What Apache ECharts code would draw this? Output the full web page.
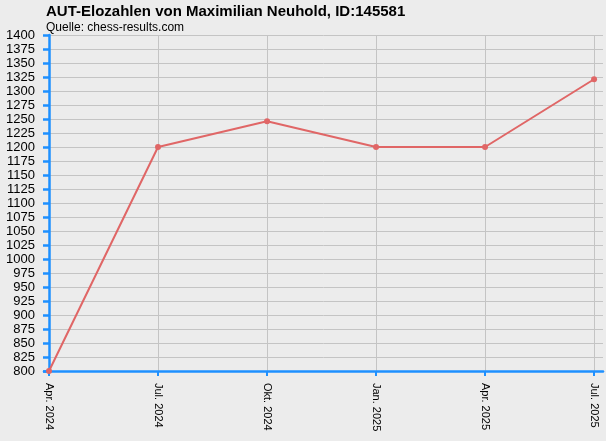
<!DOCTYPE html>
<html>
<head>
<meta charset="utf-8">
<script src="https://cdn.jsdelivr.net/npm/echarts@6/dist/echarts.min.js"></script>
<style>
  html, body { margin: 0; padding: 0; background: #ececec; }
  #chart { width: 606px; height: 441px; }
</style>
</head>
<body>
<div id="chart"></div>
<script>
// Elo history
const periods = ['Apr. 2024', 'Jul. 2024', 'Okt. 2024', 'Jan. 2025', 'Apr. 2025', 'Jul. 2025']
const elo = [800, 1200, 1246, 1200, 1200, 1321]
const periodIdx = [0, 1, 2, 3, 4, 5]

const axisBlue = '#1e90ff'
const font = 'Liberation Sans, Arial, sans-serif'

const chart = echarts.init(document.getElementById('chart'))

chart.setOption({
  backgroundColor: '#ececec',
  animation: false,
  title: {
    text: 'AUT-Elozahlen von Maximilian Neuhold, ID:145581',
    subtext: 'Quelle: chess-results.com',
    left: 41,
    top: -1,
    itemGap: 3,
    textStyle: { fontFamily: font, fontSize: 15, fontWeight: 'bold', color: '#000' },
    subtextStyle: { fontFamily: font, fontSize: 12, color: '#000' }
  },
  grid: { left: 44, right: 3, top: 35, bottom: 70, containLabel: false },
  xAxis: {
    type: 'value',
    min: -0.046,
    max: 5.082,
    axisLine: { show: true, onZero: false, lineStyle: { color: axisBlue, width: 2.5 } },
    axisTick: { show: true, customValues: periodIdx, length: 5, lineStyle: { color: axisBlue, width: 2 } },
    axisLabel: {
      customValues: periodIdx,
      rotate: -90,
      margin: 12,
      fontFamily: font,
      fontSize: 11,
      color: '#000',
      formatter: v => periods[Math.round(v)]
    },
    splitLine: { show: true, lineStyle: { color: '#c4c4c4', width: 1 } }
  },
  yAxis: {
    type: 'value',
    min: 800,
    max: 1400,
    interval: 25,
    axisLine: { show: true, lineStyle: { color: axisBlue, width: 2.5 } },
    axisTick: { show: true, length: 6, lineStyle: { color: axisBlue, width: 2.5 } },
    axisLabel: { margin: 9, fontFamily: font, fontSize: 13, color: '#000', formatter: v => String(v) },
    splitLine: { show: true, lineStyle: { color: '#c4c4c4', width: 1 } }
  },
  series: [{
    type: 'line',
    data: periodIdx.map(i => [i, elo[i]]),
    symbol: 'circle',
    symbolSize: 6,
    showSymbol: true,
    lineStyle: { color: '#e06666', width: 2 },
    itemStyle: { color: '#e06666' }
  }]
})
</script>
</body>
</html>
